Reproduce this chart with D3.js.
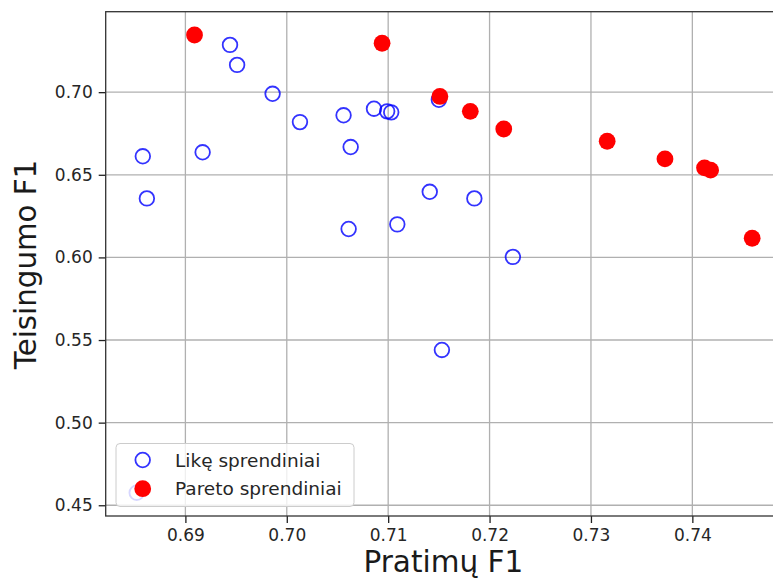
<!DOCTYPE html>
<html>
<head>
<meta charset="utf-8">
<script src="https://cdn.jsdelivr.net/npm/d3@7"></script>
<style>
  body { margin: 0; background: #fff; }
  svg { display: block; font-family: "DejaVu Sans", sans-serif; }
</style>
</head>
<body>
<svg id="chart" width="773" height="581"></svg>
<script>
// remaining (non-Pareto) solutions
const otherX = [0.6944, 0.6951, 0.6986, 0.7013, 0.7056, 0.7086, 0.7099, 0.7103, 0.7150,
                0.7063, 0.6858, 0.6917, 0.6862, 0.7141, 0.7109, 0.7061, 0.7185, 0.7223,
                0.7153, 0.6852];
const otherY = [0.7286, 0.7165, 0.6990, 0.6819, 0.6860, 0.6900, 0.6884, 0.6878, 0.6954,
                0.6668, 0.6612, 0.6636, 0.6357, 0.6397, 0.6200, 0.6172, 0.6357, 0.6003,
                0.5440, 0.4576];
// Pareto front
const paretoX = [0.6909, 0.7094, 0.7151, 0.7181, 0.7214, 0.7316, 0.7373, 0.7412, 0.7418, 0.7459];
const paretoY = [0.7346, 0.7296, 0.6974, 0.6884, 0.6777, 0.6703, 0.6596, 0.6542, 0.6528, 0.6116];

const xTicks = [0.69, 0.70, 0.71, 0.72, 0.73, 0.74];
const yTicks = [0.45, 0.50, 0.55, 0.60, 0.65, 0.70];
const legendLabels = ["Likę sprendiniai", "Pareto sprendiniai"];

const svg = d3.select('#chart');
const mLeft = 105.7, mTop = 11.7, mBottom = 516, mRight = 776.5;

const x = d3.scaleLinear().domain([0.68214, 0.7483]).range([mLeft, mRight]);
const y = d3.scaleLinear().domain([0.4435, 0.7487]).range([mBottom, mTop]);

// grid
const grid = svg.append('g');
grid.selectAll('.gx').data(xTicks).enter().append('line')
    .attr('x1', d => x(d)).attr('x2', d => x(d))
    .attr('y1', mTop).attr('y2', mBottom)
    .attr('stroke', '#b0b0b0').attr('stroke-width', 1.3);
grid.selectAll('.gy').data(yTicks).enter().append('line')
    .attr('x1', mLeft).attr('x2', mRight)
    .attr('y1', d => y(d)).attr('y2', d => y(d))
    .attr('stroke', '#b0b0b0').attr('stroke-width', 1.3);

// axes
const xAxis = d3.axisBottom(x).tickValues(xTicks).tickFormat(d3.format('.2f'))
    .tickSize(7).tickPadding(6);
const yAxis = d3.axisLeft(y).tickValues(yTicks).tickFormat(d3.format('.2f'))
    .tickSize(7).tickPadding(6);

const gx = svg.append('g').attr('transform', `translate(0,${mBottom})`).call(xAxis);
const gy = svg.append('g').attr('transform', `translate(${mLeft},0)`).call(yAxis);
[gx, gy].forEach(g => {
    g.select('.domain').remove();
    g.selectAll('.tick line').attr('stroke', '#222').attr('stroke-width', 1.3);
    g.selectAll('.tick text').attr('fill', '#262626')
        .style('font-size', '17px').style('font-family', '"DejaVu Sans", sans-serif');
});

// spines (left, top, bottom; right is past the image edge)
svg.append('rect')
    .attr('x', mLeft).attr('y', mTop)
    .attr('width', mRight - mLeft).attr('height', mBottom - mTop)
    .attr('fill', 'none').attr('stroke', '#333').attr('stroke-width', 1.3);

// points
const others = otherX.map((v, i) => ({ x: v, y: otherY[i] }));
const pareto = paretoX.map((v, i) => ({ x: v, y: paretoY[i] }));

svg.append('g').selectAll('circle').data(others).enter().append('circle')
    .attr('cx', d => x(d.x)).attr('cy', d => y(d.y)).attr('r', 7.3)
    .attr('fill', 'none').attr('stroke', '#0000ff').attr('stroke-opacity', 0.8)
    .attr('stroke-width', 1.8);

svg.append('g').selectAll('circle').data(pareto).enter().append('circle')
    .attr('cx', d => x(d.x)).attr('cy', d => y(d.y)).attr('r', 8.4)
    .attr('fill', '#ff0000');

// legend
const lg = svg.append('g');
lg.append('rect')
    .attr('x', 116).attr('y', 443.5).attr('width', 238).attr('height', 63)
    .attr('rx', 4)
    .attr('fill', '#fff').attr('fill-opacity', 0.8)
    .attr('stroke', '#cccccc').attr('stroke-width', 1);

legendLabels.forEach((lab, i) => {
    const cy = 460 + i * 28.7;
    if (i === 0) {
        lg.append('circle').attr('cx', 142.7).attr('cy', cy).attr('r', 7.3)
            .attr('fill', 'none').attr('stroke', '#0000ff').attr('stroke-opacity', 0.8)
            .attr('stroke-width', 1.8);
    } else {
        lg.append('circle').attr('cx', 142.7).attr('cy', cy).attr('r', 8.4)
            .attr('fill', '#ff0000');
    }
    lg.append('text').attr('x', 175).attr('y', cy + 6.5)
        .attr('fill', '#262626').style('font-size', '18.5px').text(lab);
});

// axis titles
svg.append('text')
    .attr('x', (mLeft + 773) / 2 + 4).attr('y', 572)
    .attr('text-anchor', 'middle').attr('fill', '#1a1a1a')
    .style('font-size', '29.5px').text('Pratimų F1');

svg.append('text')
    .attr('transform', 'translate(36,264.5) rotate(-90)')
    .attr('text-anchor', 'middle').attr('fill', '#1a1a1a')
    .style('font-size', '29.3px').text('Teisingumo F1');
</script>
</body>
</html>
